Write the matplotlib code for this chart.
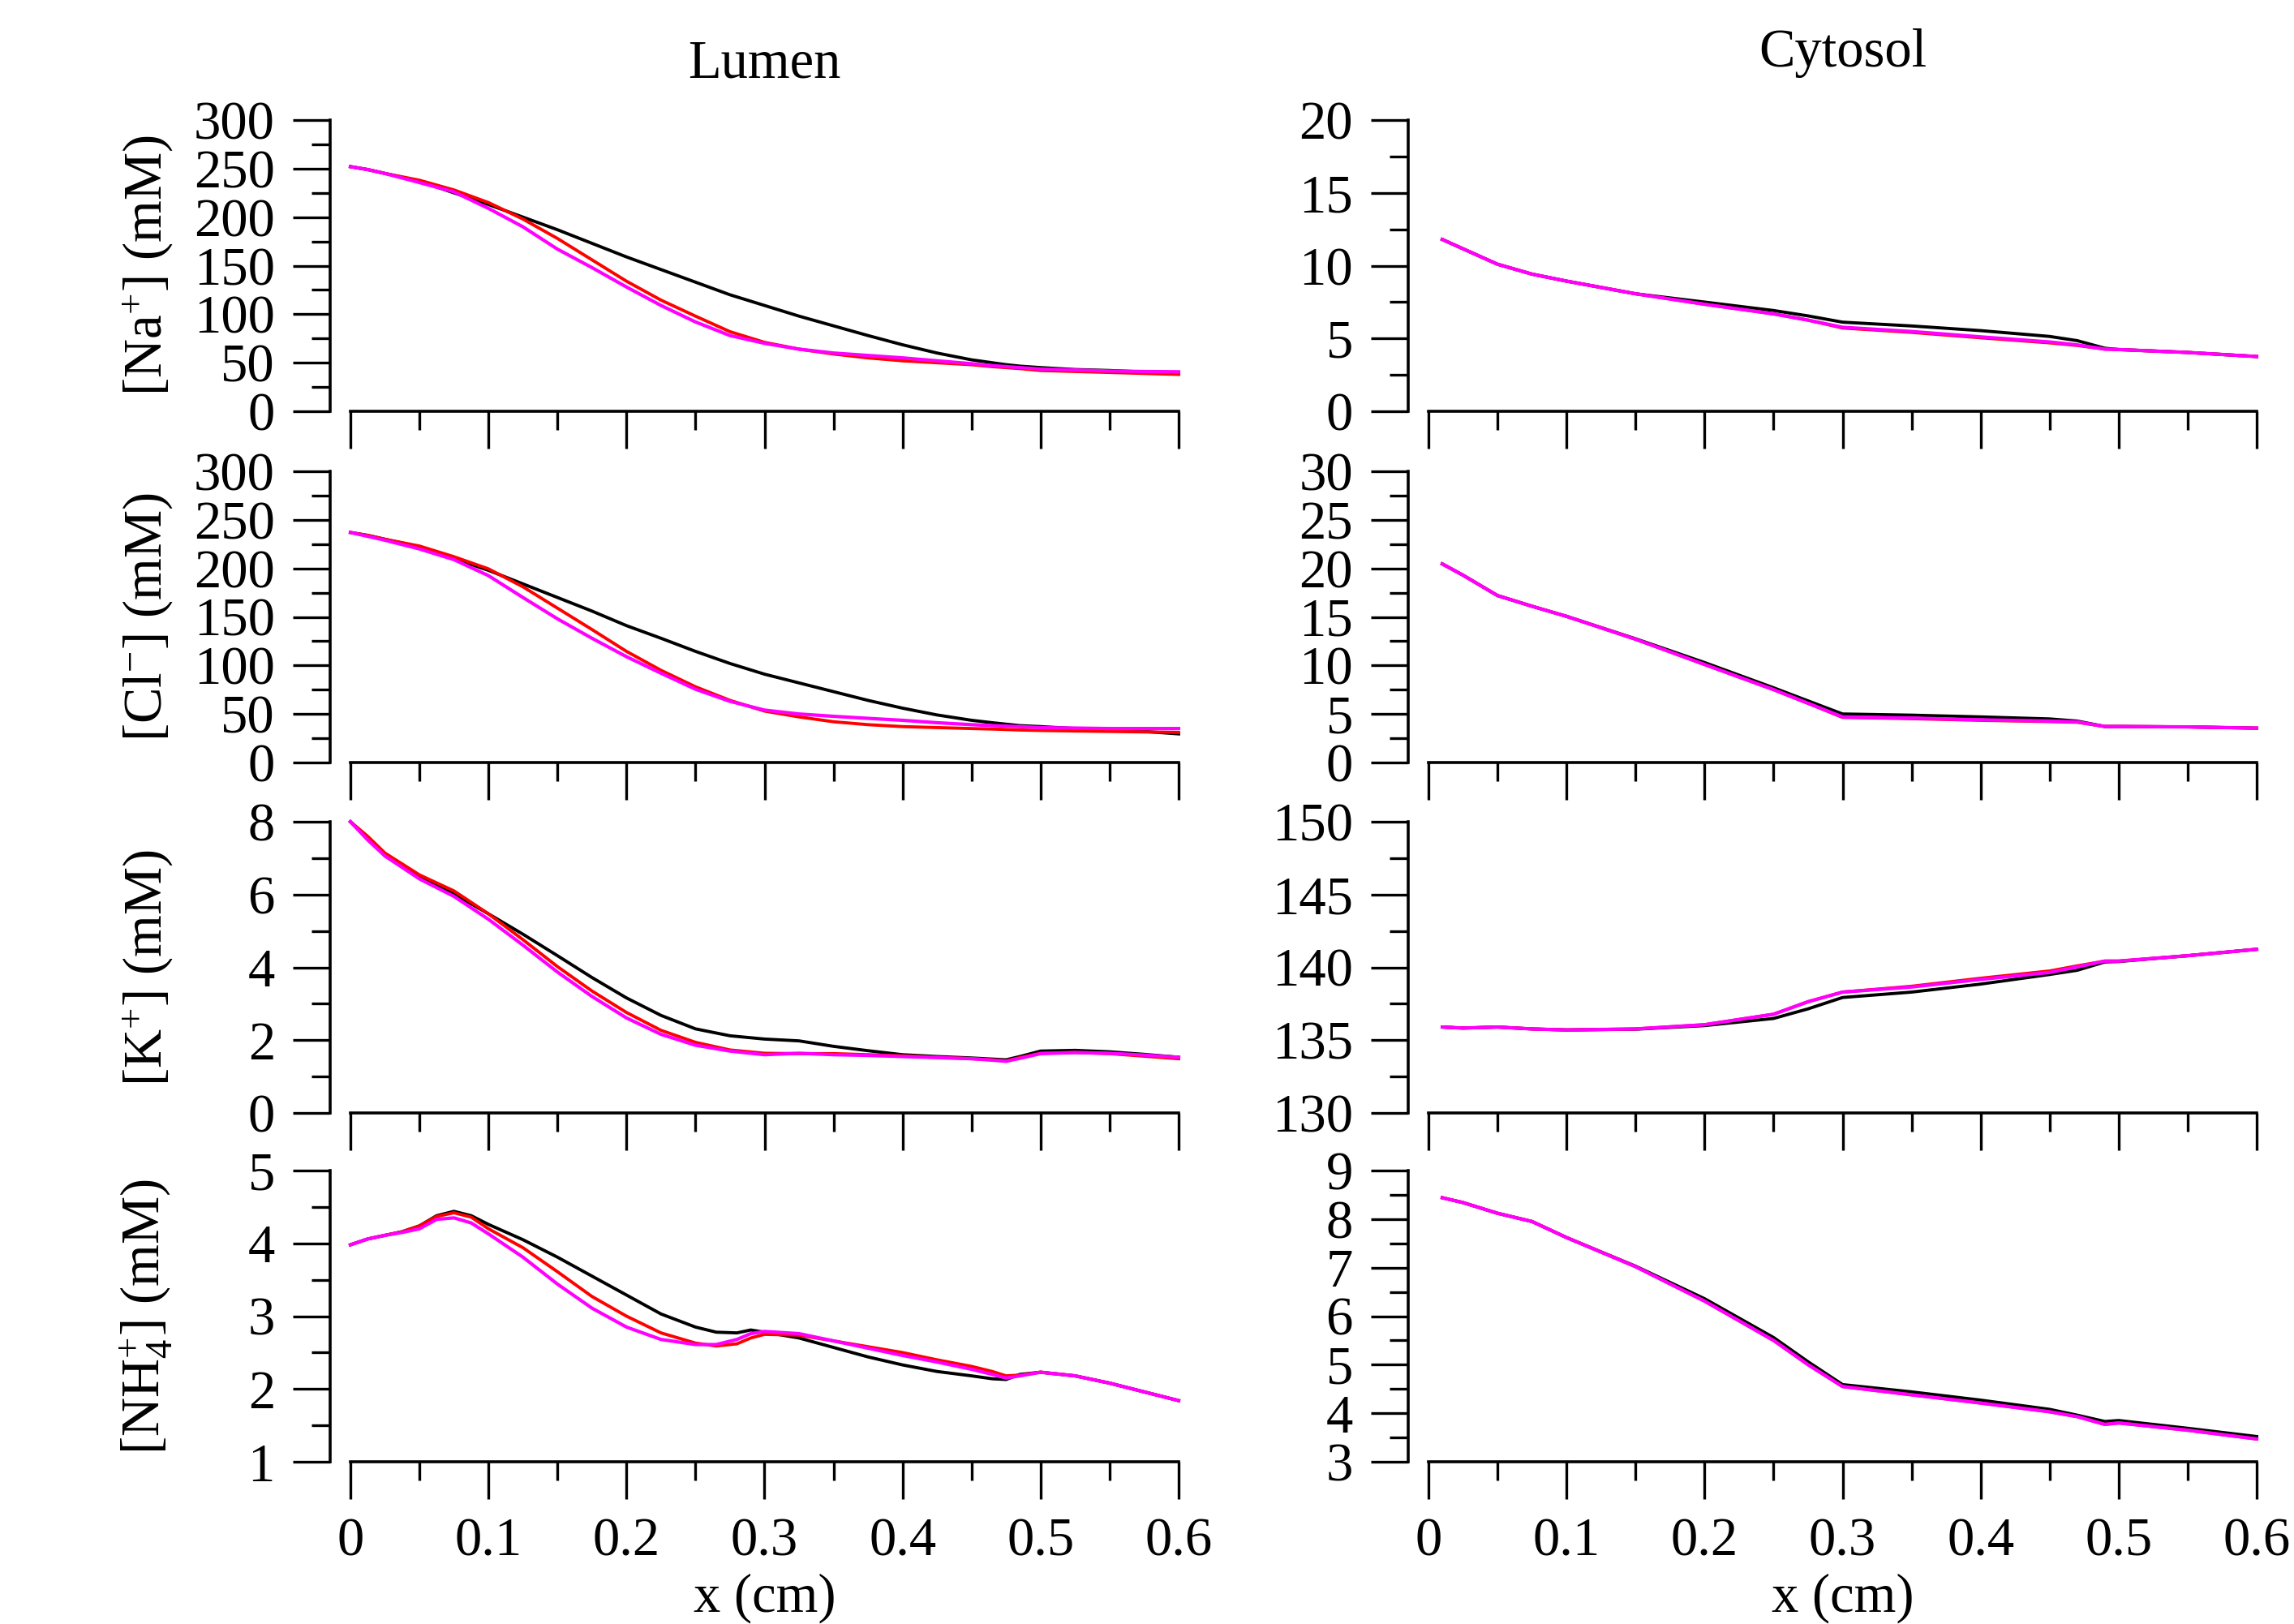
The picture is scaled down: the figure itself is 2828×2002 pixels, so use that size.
import numpy as np
import matplotlib
matplotlib.use('Agg')
from matplotlib import pyplot as plt
from matplotlib.ticker import MultipleLocator

plt.rcParams['font.family'] = ['Liberation Serif', 'DejaVu Serif']
plt.rcParams['mathtext.fontset'] = 'custom'
plt.rcParams['mathtext.rm'] = 'Liberation Serif'
plt.rcParams['mathtext.it'] = 'Liberation Serif:italic'
plt.rcParams['font.size'] = 24

# ---- lumen data ----
x_lumen = [0, 0.0125, 0.025, 0.05, 0.075, 0.1, 0.125, 0.15, 0.175, 0.2, 0.225, 0.25, 0.275,
           0.3, 0.325, 0.35, 0.375, 0.4, 0.425, 0.45, 0.465, 0.475, 0.485, 0.5, 0.525, 0.55,
           0.575, 0.6]

na_lum_black = [252, 249, 245, 237, 225, 213, 200, 187, 173, 159, 146, 133, 120, 109, 98, 88,
                78, 68.5, 60, 53, 50, 48, 46.5, 45, 43, 42, 40.5, 39]
na_lum_red = [252, 249, 245, 238, 228, 215, 198, 178, 156, 134, 114.5, 98, 82, 71, 64, 59, 55,
              52, 50, 48, 46, 45, 44, 42, 41, 40, 39, 38]
na_lum_mag = [252, 249, 245, 235.6, 226, 209, 190, 167, 148, 128, 109, 92, 78, 70, 64, 60, 57.5,
              55, 52, 49, 47, 46, 45, 43.5, 42.5, 41.5, 41, 40.7]

cl_lum_black = [237, 234, 230, 222, 210, 198, 184, 170, 156, 141, 128, 114.5, 102, 91, 82, 73,
                64, 56, 49, 43.5, 41, 39.5, 38, 37, 35, 34, 32, 29.5]
cl_lum_red = [237, 234, 230, 223, 212, 199.5, 181, 159, 137, 114.5, 95, 78, 64, 53, 47, 42, 39,
              37, 36, 35, 34.5, 34, 33.5, 33, 32.5, 32, 31.5, 31]
cl_lum_mag = [237, 233, 229, 220, 209, 192.5, 170, 148, 128, 109, 92, 75.5, 63, 54, 50, 47.6,
              45.5, 43.5, 41, 39, 38, 37.5, 37, 36, 35.5, 35, 35, 35]

k_lum_black = [8.0, 7.55, 7.06, 6.47, 6.02, 5.47, 4.91, 4.32, 3.72, 3.16, 2.68, 2.31, 2.12, 2.03,
               1.98, 1.83, 1.71, 1.60, 1.55, 1.51, 1.48, 1.46, 1.55, 1.70, 1.72, 1.68, 1.61, 1.53]
k_lum_red = [8.0, 7.6, 7.14, 6.54, 6.10, 5.47, 4.76, 4.02, 3.35, 2.76, 2.27, 1.94, 1.73, 1.64,
             1.63, 1.63, 1.60, 1.57, 1.53, 1.49, 1.46, 1.43, 1.52, 1.64, 1.66, 1.63, 1.56, 1.49]
k_lum_mag = [8.0, 7.5, 7.06, 6.43, 5.95, 5.32, 4.61, 3.87, 3.20, 2.61, 2.16, 1.86, 1.70, 1.60,
             1.64, 1.60, 1.58, 1.55, 1.52, 1.49, 1.45, 1.42, 1.50, 1.63, 1.66, 1.64, 1.59, 1.53]

x_nh4 = [0, 0.0125, 0.025, 0.0375, 0.05, 0.0625, 0.075, 0.0875, 0.1, 0.125, 0.15, 0.175, 0.2,
         0.225, 0.25, 0.265, 0.28, 0.29, 0.3, 0.325, 0.35, 0.375, 0.4, 0.425, 0.45, 0.465,
         0.475, 0.485, 0.5, 0.525, 0.55, 0.575, 0.6]
nh4_lum_black = [3.98, 4.06, 4.11, 4.16, 4.24, 4.38, 4.44, 4.38, 4.26, 4.05, 3.81, 3.55, 3.29,
                 3.03, 2.85, 2.78, 2.77, 2.81, 2.78, 2.70, 2.57, 2.44, 2.33, 2.24, 2.18, 2.14,
                 2.13, 2.20, 2.23, 2.18, 2.08, 1.96, 1.84]
nh4_lum_red = [3.98, 4.06, 4.11, 4.16, 4.24, 4.37, 4.42, 4.36, 4.20, 3.94, 3.61, 3.27, 3.00,
               2.77, 2.63, 2.59, 2.62, 2.70, 2.75, 2.74, 2.66, 2.58, 2.50, 2.40, 2.31, 2.24,
               2.18, 2.19, 2.23, 2.18, 2.08, 1.96, 1.84]
nh4_lum_mag = [3.98, 4.06, 4.11, 4.15, 4.20, 4.33, 4.35, 4.28, 4.13, 3.81, 3.44, 3.11, 2.85,
               2.68, 2.61, 2.61, 2.68, 2.76, 2.79, 2.76, 2.66, 2.56, 2.46, 2.37, 2.27, 2.20,
               2.15, 2.18, 2.23, 2.18, 2.08, 1.96, 1.84]

# ---- cytosol data ----
x_cyt = [0.01, 0.025, 0.05, 0.075, 0.1, 0.15, 0.2, 0.25, 0.275, 0.3, 0.35, 0.4, 0.45, 0.47,
         0.49, 0.5, 0.55, 0.6]

na_cyt_black = [11.8, 11.16, 10.1, 9.42, 8.94, 8.07, 7.5, 6.92, 6.55, 6.12, 5.86, 5.54, 5.14,
                4.85, 4.33, 4.24, 4.04, 3.76]
na_cyt_red = [11.8, 11.16, 10.1, 9.42, 8.94, 8.07, 7.35, 6.69, 6.26, 5.72, 5.42, 5.05, 4.70,
              4.52, 4.27, 4.24, 4.04, 3.76]
na_cyt_mag = [11.8, 11.16, 10.1, 9.42, 8.94, 8.07, 7.35, 6.69, 6.26, 5.77, 5.48, 5.11, 4.76,
              4.56, 4.27, 4.24, 4.04, 3.76]

cl_cyt_black = [20.46, 19.3, 17.2, 16.1, 15.06, 12.75, 10.3, 7.7, 6.35, 5.0, 4.88, 4.7, 4.49,
                4.27, 3.71, 3.71, 3.67, 3.54]
cl_cyt_red = [20.46, 19.3, 17.2, 16.1, 15.06, 12.7, 10.1, 7.51, 6.1, 4.65, 4.52, 4.35, 4.22,
              4.15, 3.71, 3.71, 3.67, 3.54]
cl_cyt_mag = [20.46, 19.3, 17.2, 16.1, 15.06, 12.7, 10.1, 7.51, 6.1, 4.7, 4.58, 4.40, 4.27,
              4.19, 3.71, 3.71, 3.67, 3.54]

k_cyt_black = [135.9, 135.83, 135.9, 135.77, 135.7, 135.75, 136.0, 136.49, 137.15, 137.93,
               138.3, 138.85, 139.51, 139.8, 140.37, 140.4, 140.8, 141.24]
k_cyt_red = [135.9, 135.83, 135.9, 135.77, 135.7, 135.77, 136.06, 136.78, 137.64, 138.3,
             138.7, 139.25, 139.75, 140.1, 140.43, 140.43, 140.8, 141.24]
k_cyt_mag = [135.9, 135.83, 135.9, 135.77, 135.7, 135.77, 136.06, 136.78, 137.64, 138.3,
             138.65, 139.17, 139.65, 140.03, 140.43, 140.43, 140.8, 141.24]

nh4_cyt_black = [8.44, 8.34, 8.12, 7.95, 7.62, 7.03, 6.36, 5.56, 5.06, 4.59, 4.44, 4.27, 4.08,
                 3.96, 3.83, 3.85, 3.69, 3.52]
nh4_cyt_red = [8.44, 8.34, 8.12, 7.95, 7.62, 7.02, 6.31, 5.50, 5.0, 4.55, 4.38, 4.21, 4.03,
               3.93, 3.77, 3.80, 3.65, 3.47]
nh4_cyt_mag = [8.44, 8.34, 8.12, 7.95, 7.62, 7.02, 6.31, 5.50, 5.0, 4.55, 4.38, 4.21, 4.03,
               3.93, 3.77, 3.80, 3.65, 3.47]

ylabels = ['[Na$^{+}$] (mM)', '[Cl$^{-}$] (mM)', '[K$^{+}$] (mM)', '[NH$_4^{+}$] (mM)']

# (x, black, red, magenta, ylim, major, minor)
lumen_panels = [
    (x_lumen, na_lum_black, na_lum_red, na_lum_mag, (0, 300), 50, 25),
    (x_lumen, cl_lum_black, cl_lum_red, cl_lum_mag, (0, 300), 50, 25),
    (x_lumen, k_lum_black, k_lum_red, k_lum_mag, (0, 8), 2, 1),
    (x_nh4, nh4_lum_black, nh4_lum_red, nh4_lum_mag, (1, 5), 1, 0.5),
]
cyt_panels = [
    (x_cyt, na_cyt_black, na_cyt_red, na_cyt_mag, (0, 20), 5, 2.5),
    (x_cyt, cl_cyt_black, cl_cyt_red, cl_cyt_mag, (0, 30), 5, 2.5),
    (x_cyt, k_cyt_black, k_cyt_red, k_cyt_mag, (130, 150), 5, 2.5),
    (x_cyt, nh4_cyt_black, nh4_cyt_red, nh4_cyt_mag, (3, 9), 1, 0.5),
]

W, H = 2828.0, 2002.0
fig = plt.figure(figsize=(W / 200, H / 200), dpi=200)

col_left = [432, 1761]
col_width = 1021
row_top = [148, 581, 1013, 1443]
row_height = 359


def style_axes(ax, ylim, major, minor, bottom_row):
    ax.set_xlim(0, 0.6)
    ax.set_ylim(*ylim)
    for s in ['top', 'right']:
        ax.spines[s].set_visible(False)
    ax.spines['left'].set_position(('outward', 9))
    ax.spines['left'].set_linewidth(1.3)
    ax.spines['bottom'].set_linewidth(1.3)
    ax.xaxis.set_major_locator(MultipleLocator(0.1))
    ax.xaxis.set_minor_locator(MultipleLocator(0.05))
    ax.yaxis.set_major_locator(MultipleLocator(major))
    ax.yaxis.set_minor_locator(MultipleLocator(minor))
    ax.tick_params(which='major', direction='out', length=16.5, width=1.2, pad=8)
    ax.tick_params(which='minor', direction='out', length=8.3, width=1.2)
    ax.tick_params(axis='both', labelsize=24)
    if bottom_row:
        ax.set_xticks([0, 0.1, 0.2, 0.3, 0.4, 0.5, 0.6])
        ax.set_xticklabels(['0', '0.1', '0.2', '0.3', '0.4', '0.5', '0.6'])
    else:
        ax.tick_params(axis='x', labelbottom=False)


for col, panels in enumerate([lumen_panels, cyt_panels]):
    for row, (xs, yb, yr, ym, ylim, major, minor) in enumerate(panels):
        left = col_left[col] / W
        bottom = 1 - (row_top[row] + row_height) / H
        ax = fig.add_axes([left, bottom, col_width / W, row_height / H])
        ax.plot(xs, yb, color='black', lw=1.4, clip_on=False)
        ax.plot(xs, yr, color='red', lw=1.4, clip_on=False)
        ax.plot(xs, ym, color='#ff00ff', lw=1.5, clip_on=False)
        style_axes(ax, ylim, major, minor, row == 3)
        if col == 0:
            ax.set_ylabel(ylabels[row], fontsize=24)
            ax.yaxis.set_label_coords(-0.2125, 0.5)

fig.text((432 + col_width / 2) / W, 1 - 79 / H, 'Lumen', ha='center', va='center', fontsize=24)
fig.text((1761 + col_width / 2) / W, 1 - 65 / H, 'Cytosol', ha='center', va='center', fontsize=24)
fig.text((432 + col_width / 2) / W, 1 - 1970 / H, 'x (cm)', ha='center', va='center', fontsize=24)
fig.text((1761 + col_width / 2) / W, 1 - 1970 / H, 'x (cm)', ha='center', va='center', fontsize=24)

fig.savefig('out.png', dpi=200)
